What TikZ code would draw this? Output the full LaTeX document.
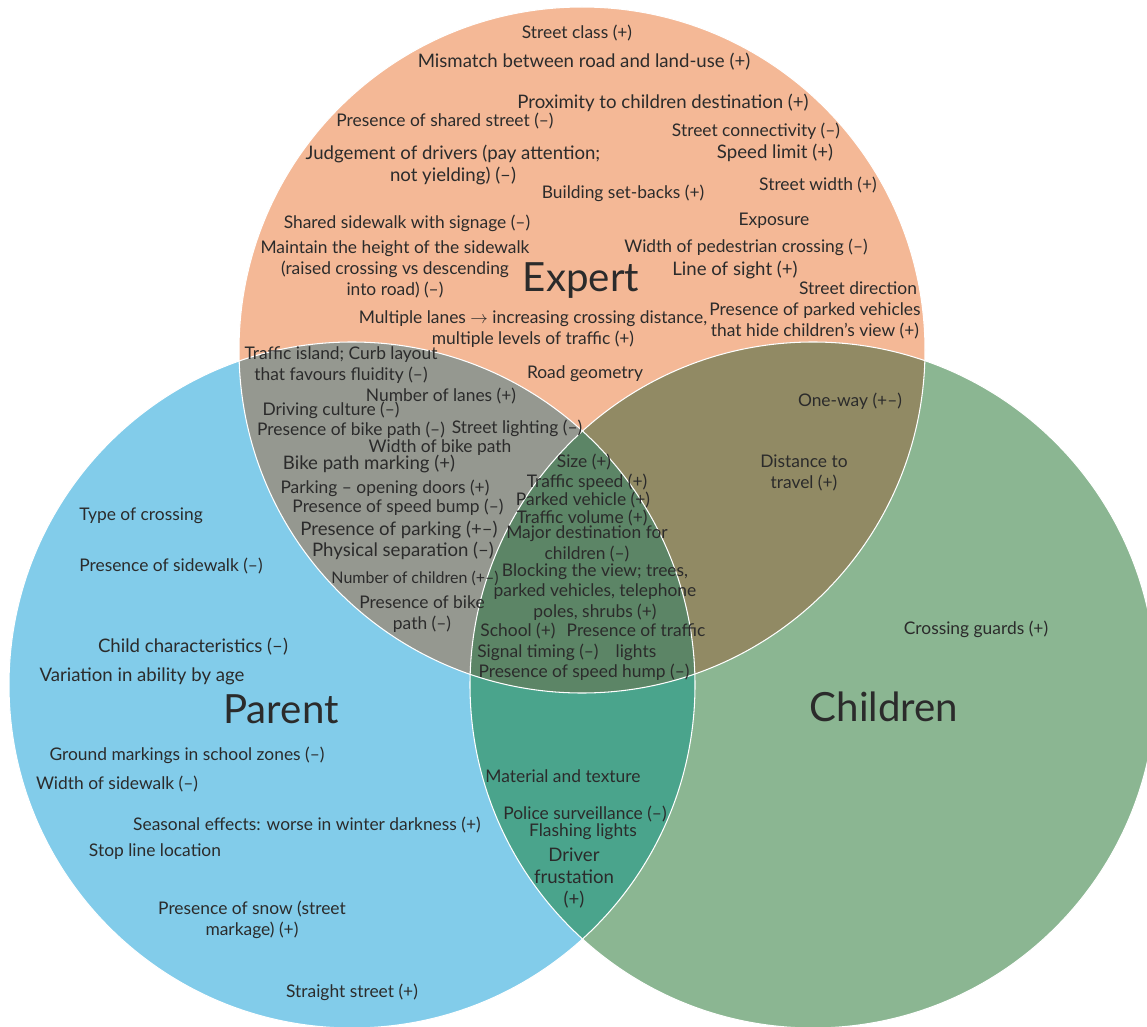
\documentclass[tikz,border=0pt]{standalone}
\usepackage{fontspec}
\setmainfont{Lato}
\usepackage{xcolor}

\definecolor{expertfill}{HTML}{F4B896}
\definecolor{parentfill}{HTML}{82CCEA}
\definecolor{childfill}{HTML}{8BB692}
\definecolor{epfill}{HTML}{959890}
\definecolor{ecfill}{HTML}{918A64}
\definecolor{pcfill}{HTML}{4AA48C}
\definecolor{allfill}{HTML}{5C8566}
\definecolor{textgray}{HTML}{2B2B2B}

\begin{document}
\begin{tikzpicture}[x=0.02cm,y=-0.02cm,
    lbl/.style={text=textgray, align=center, inner sep=0pt, font=\fontsize{9.9}{11.9}\selectfont},
    lblL/.style={lbl, font=\fontsize{10.6}{12.4}\selectfont},
    lblS/.style={lbl, font=\fontsize{9.1}{11.4}\selectfont},
    title/.style={text=textgray, inner sep=0pt, font=\fontsize{22.9}{27}\selectfont}]
    \useasboundingbox (0,0) rectangle (1147,1027);

    % Circle centres
    \coordinate (ctrE) at (582,350);
    \coordinate (ctrP) at (352,685);
    \coordinate (ctrC) at (813,685);

    % Circles
    \fill[expertfill] (ctrE) circle[radius=343];
    \fill[parentfill] (ctrP) circle[radius=343];
    \fill[childfill] (ctrC) circle[radius=343];

    % Overlaps
    \begin{scope}
        \clip (ctrE) circle[radius=343];
        \fill[epfill] (ctrP) circle[radius=343];
        \fill[ecfill] (ctrC) circle[radius=343];
    \end{scope}
    \begin{scope}
        \clip (ctrP) circle[radius=343];
        \fill[pcfill] (ctrC) circle[radius=343];
        \clip (ctrC) circle[radius=343];
        \fill[allfill] (ctrE) circle[radius=343];
    \end{scope}

    % White outlines
    \draw[white, line width=0.6pt] (ctrE) circle[radius=343];
    \draw[white, line width=0.6pt] (ctrP) circle[radius=343];
    \draw[white, line width=0.6pt] (ctrC) circle[radius=343];

    % Titles
    \node[title] (ttlE) at (581,281) {Expert};
    \node[title] (ttlP) at (281,709) {Parent};
    \node[title] (ttlC) at (884,707) {Children};

    % Expert only
    \node[lbl]  (e1)  at (577,33)  {Street class (+)};
    \node[lblL] (e2)  at (584,62)  {Mismatch between road and land-use (+)};
    \node[lblL] (e3)  at (663,103) {Proximity to children destination (+)};
    \node[lbl]  (e4)  at (445,121) {Presence of shared street (–)};
    \node[lbl]  (e5)  at (756,131) {Street connectivity (–)};
    \node[lblL] (e6)  at (453,165) {Judgement of drivers (pay attention;\\not yielding) (–)};
    \node[lblL] (e7)  at (775,153) {Speed limit (+)};
    \node[lbl]  (e8)  at (623,193) {Building set-backs (+)};
    \node[lbl]  (e9)  at (818,185) {Street width (+)};
    \node[lbl]  (e10) at (407,223) {Shared sidewalk with signage (–)};
    \node[lbl]  (e11) at (774,221) {Exposure};
    \node[lbl]  (e12) at (395,269) {Maintain the height of the sidewalk\\(raised crossing vs descending\\into road) (–)};
    \node[lbl]  (e13) at (746,247) {Width of pedestrian crossing (–)};
    \node[lblL] (e14) at (735,270) {Line of sight (+)};
    \node[lbl]  (e15) at (858,288) {Street direction};
    \node[lbl]  (e16) at (815,321) {Presence of parked vehicles\\that hide children’s view (+)};
    \node[lbl]  (e17) at (533,329) {Multiple lanes $\rightarrow$ increasing crossing distance,\\multiple levels of traffic (+)};
    \node[lbl]  (e18) at (585,374) {Road geometry};

    % Expert and Parent
    \node[lbl]  (ep1)  at (341,365) {Traffic island; Curb layout\\that favours fluidity (–)};
    \node[lbl]  (ep2)  at (441,396) {Number of lanes (+)};
    \node[lbl]  (ep3)  at (331,410) {Driving culture (–)};
    \node[lbl]  (ep4)  at (351,430) {Presence of bike path (–)};
    \node[lbl]  (ep5)  at (517,428) {Street lighting (–)};
    \node[lbl]  (ep6)  at (440,448) {Width of bike path};
    \node[lblL] (ep7)  at (369,464) {Bike path marking (+)};
    \node[lbl]  (ep8)  at (385,488) {Parking – opening doors (+)};
    \node[lbl]  (ep9)  at (398,507) {Presence of speed bump (–)};
    \node[lblL] (ep10) at (399,530) {Presence of parking (+–)};
    \node[lblL] (ep11) at (403,551) {Physical separation (–)};
    \node[lblS] (ep12) at (415,578) {Number of children (+–)};
    \node[lbl]  (ep13) at (422,614) {Presence of bike\\path (–)};

    % All three
    \node[lbl] (a1)  at (584,462) {Size (+)};
    \node[lbl] (a2)  at (587,482) {Traffic speed (+)};
    \node[lbl] (a3)  at (583,500) {Parked vehicle (+)};
    \node[lbl] (a4)  at (582,518) {Traffic volume (+)};
    \node[lbl] (a5)  at (587,544) {Major destination for\\children (–)};
    \node[lbl] (a6)  at (595,592) {Blocking the view; trees,\\parked vehicles, telephone\\poles, shrubs (+)};
    \node[lbl] (a7)  at (518,631) {School (+)};
    \node[lbl] (a8)  at (636,642) {Presence of traffic\\lights};
    \node[lbl] (a9)  at (538,652) {Signal timing (–)};
    \node[lbl] (a10) at (584,672) {Presence of speed hump (–)};

    % Expert and Children
    \node[lbl] (ec1) at (850,401) {One-way (+–)};
    \node[lbl] (ec2) at (804,473) {Distance to\\travel (+)};

    % Children only
    \node[lbl] (c1) at (976,629) {Crossing guards (+)};

    % Parent and Children
    \node[lbl]  (pc1) at (563,776) {Material and texture};
    \node[lbl]  (pc2) at (585,814) {Police surveillance (–)};
    \node[lbl]  (pc3) at (583,832) {Flashing lights};
    \node[lblL] (pc4) at (574,878) {Driver\\frustation\\(+)};

    % Parent only
    \node[lbl]  (p1)  at (141,516) {Type of crossing};
    \node[lbl]  (p2)  at (171,566) {Presence of sidewalk (–)};
    \node[lblL] (p3)  at (193,647) {Child characteristics (–)};
    \node[lblL] (p4)  at (142,676) {Variation in ability by age};
    \node[lbl]  (p5)  at (187,755) {Ground markings in school zones (–)};
    \node[lbl]  (p6)  at (117,784) {Width of sidewalk (–)};
    \node[lbl]  (p7)  at (307,825) {Seasonal effects: worse in winter darkness (+)};
    \node[lbl]  (p8)  at (155,852) {Stop line location};
    \node[lbl]  (p9)  at (252,920) {Presence of snow (street\\markage) (+)};
    \node[lbl]  (p10) at (352,992) {Straight street (+)};
\end{tikzpicture}
\end{document}
